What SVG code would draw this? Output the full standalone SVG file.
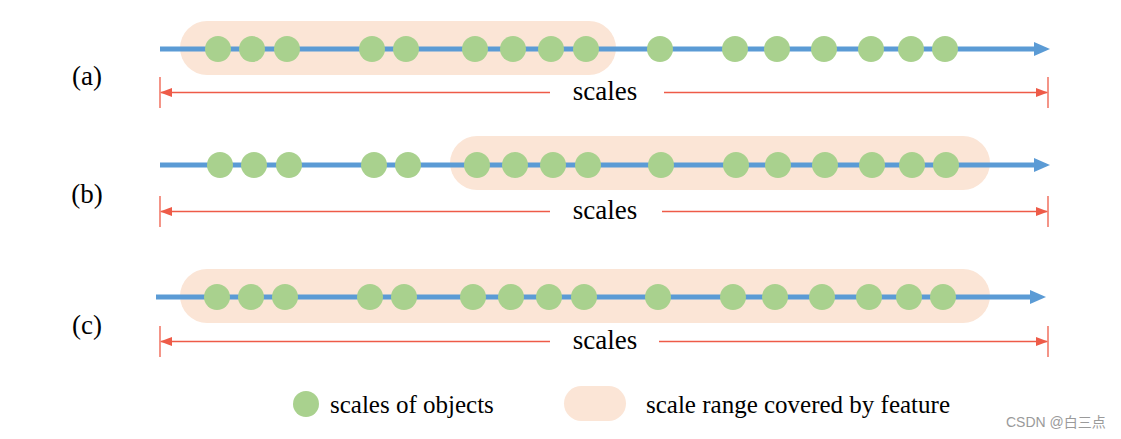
<svg xmlns="http://www.w3.org/2000/svg" width="1121" height="439" viewBox="0 0 1121 439">
<defs>
<style>
.pill{fill:#FBE5D6}
.axis{stroke:#5B9BD5;stroke-width:5;fill:none}
.dot{fill:#A9D18E}
.dim{stroke:#EE5B48;stroke-width:1.3;fill:none}
.tick{stroke:#EE5B48;stroke-width:1.3}
.lbl{font-family:"Liberation Serif","Times New Roman",serif;font-size:27px;fill:#000}
.leg{font-family:"Liberation Serif","Times New Roman",serif;font-size:25px;fill:#000}
.wm{font-family:"Liberation Sans","Noto Sans CJK SC",sans-serif;font-size:14px;fill:#9a9a9a}
</style>
<marker id="blueArrow" markerWidth="16" markerHeight="14" refX="1" refY="7" orient="auto" markerUnits="userSpaceOnUse">
<path d="M0,0 L16,7 L0,14 Z" fill="#5B9BD5"/>
</marker>
<marker id="redArrow" markerWidth="12" markerHeight="9" refX="11" refY="4.5" orient="auto" markerUnits="userSpaceOnUse">
<path d="M0,0 L12,4.5 L0,9 Z" fill="#EE5B48"/>
</marker>
</defs>
<rect width="1121" height="439" fill="#fff"/>

<g id="row-a">
<rect class="pill" x="180" y="21" width="436" height="54" rx="27"/>
<line class="axis" x1="160" y1="49" x2="1035" y2="49" marker-end="url(#blueArrow)"/>
<g>
<circle class="dot" cx="218" cy="49" r="13"/><circle class="dot" cx="252" cy="49" r="13"/><circle class="dot" cx="287" cy="49" r="13"/>
<circle class="dot" cx="372" cy="49" r="13"/><circle class="dot" cx="406" cy="49" r="13"/>
<circle class="dot" cx="475" cy="49" r="13"/><circle class="dot" cx="513" cy="49" r="13"/><circle class="dot" cx="551" cy="49" r="13"/><circle class="dot" cx="586" cy="49" r="13"/>
<circle class="dot" cx="660" cy="49" r="13"/><circle class="dot" cx="735" cy="49" r="13"/><circle class="dot" cx="777" cy="49" r="13"/><circle class="dot" cx="824" cy="49" r="13"/><circle class="dot" cx="871" cy="49" r="13"/><circle class="dot" cx="911" cy="49" r="13"/><circle class="dot" cx="945" cy="49" r="13"/>
</g>
<text class="lbl" x="87" y="85" text-anchor="middle">(a)</text>
</g>

<g id="row-b">
<rect class="pill" x="450" y="136" width="540" height="54" rx="27"/>
<line class="axis" x1="160" y1="165" x2="1035" y2="165" marker-end="url(#blueArrow)"/>
<g>
<circle class="dot" cx="220" cy="165" r="13"/><circle class="dot" cx="254" cy="165" r="13"/><circle class="dot" cx="289" cy="165" r="13"/>
<circle class="dot" cx="374" cy="165" r="13"/><circle class="dot" cx="408" cy="165" r="13"/>
<circle class="dot" cx="477" cy="165" r="13"/><circle class="dot" cx="515" cy="165" r="13"/><circle class="dot" cx="553" cy="165" r="13"/><circle class="dot" cx="588" cy="165" r="13"/>
<circle class="dot" cx="661" cy="165" r="13"/><circle class="dot" cx="736" cy="165" r="13"/><circle class="dot" cx="778" cy="165" r="13"/><circle class="dot" cx="825" cy="165" r="13"/><circle class="dot" cx="872" cy="165" r="13"/><circle class="dot" cx="912" cy="165" r="13"/><circle class="dot" cx="946" cy="165" r="13"/>
</g>
<text class="lbl" x="87" y="203" text-anchor="middle">(b)</text>
</g>

<g id="row-c">
<rect class="pill" x="180" y="269" width="810" height="54" rx="27"/>
<line class="axis" x1="156" y1="297" x2="1031" y2="297" marker-end="url(#blueArrow)"/>
<g>
<circle class="dot" cx="217" cy="297" r="13"/><circle class="dot" cx="251" cy="297" r="13"/><circle class="dot" cx="285" cy="297" r="13"/>
<circle class="dot" cx="370" cy="297" r="13"/><circle class="dot" cx="404" cy="297" r="13"/>
<circle class="dot" cx="473" cy="297" r="13"/><circle class="dot" cx="511" cy="297" r="13"/><circle class="dot" cx="549" cy="297" r="13"/><circle class="dot" cx="584" cy="297" r="13"/>
<circle class="dot" cx="658" cy="297" r="13"/><circle class="dot" cx="733" cy="297" r="13"/><circle class="dot" cx="775" cy="297" r="13"/><circle class="dot" cx="822" cy="297" r="13"/><circle class="dot" cx="869" cy="297" r="13"/><circle class="dot" cx="909" cy="297" r="13"/><circle class="dot" cx="943" cy="297" r="13"/>
</g>
<text class="lbl" x="87" y="334" text-anchor="middle">(c)</text>
</g>

<g id="connectors">
<line class="tick" x1="160" y1="77" x2="160" y2="108"/>
<line class="tick" x1="1048" y1="77" x2="1048" y2="108"/>
<line class="dim" x1="550" y1="92.5" x2="161" y2="92.5" marker-end="url(#redArrow)"/>
<line class="dim" x1="664" y1="92.5" x2="1047" y2="92.5" marker-end="url(#redArrow)"/>

<line class="tick" x1="160" y1="196" x2="160" y2="227"/>
<line class="tick" x1="1048" y1="196" x2="1048" y2="227"/>
<line class="dim" x1="550" y1="211.5" x2="161" y2="211.5" marker-end="url(#redArrow)"/>
<line class="dim" x1="662" y1="211.5" x2="1047" y2="211.5" marker-end="url(#redArrow)"/>

<line class="tick" x1="160" y1="326" x2="160" y2="357"/>
<line class="tick" x1="1048" y1="326" x2="1048" y2="357"/>
<line class="dim" x1="550" y1="341.5" x2="161" y2="341.5" marker-end="url(#redArrow)"/>
<line class="dim" x1="659" y1="341.5" x2="1047" y2="341.5" marker-end="url(#redArrow)"/>
</g>

<g id="dim-labels">
<text class="lbl" x="605" y="100" text-anchor="middle">scales</text>
<text class="lbl" x="605" y="219" text-anchor="middle">scales</text>
<text class="lbl" x="605" y="349" text-anchor="middle">scales</text>
</g>

<g id="legend">
<circle class="dot" cx="306" cy="404" r="13"/>
<text class="leg" x="330" y="413">scales of objects</text>
<rect class="pill" x="564" y="386" width="62" height="35" rx="17.5"/>
<text class="leg" x="646" y="413">scale range covered by feature</text>
</g>

<text class="wm" x="1006" y="427">CSDN @白三点</text>
</svg>
